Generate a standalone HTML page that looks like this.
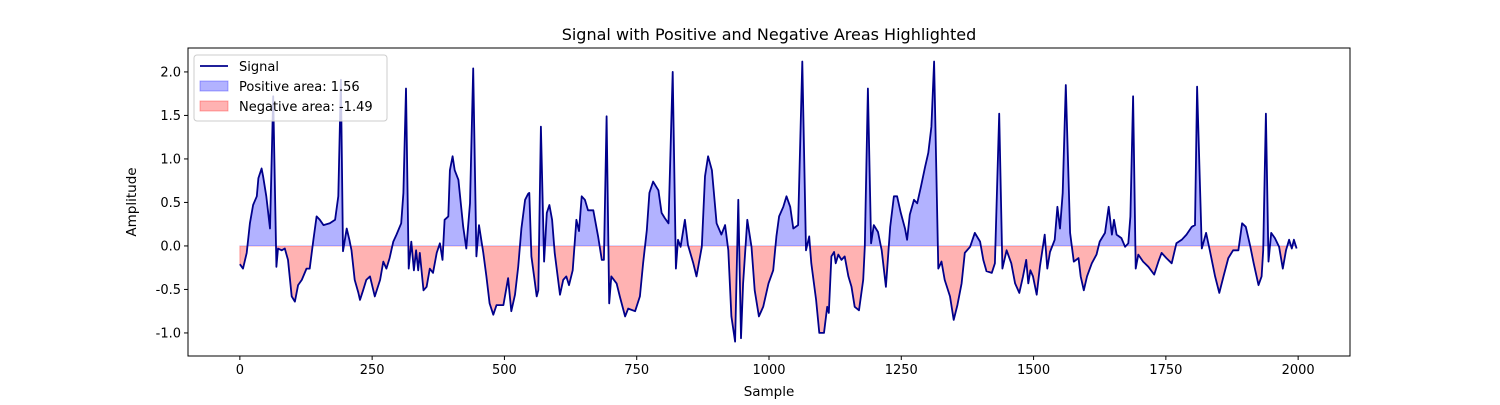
<!DOCTYPE html>
<html><head><meta charset="utf-8"><style>
body{margin:0;background:#fff;font-family:"Liberation Sans","DejaVu Sans",sans-serif;}
svg text{font-family:"DejaVu Sans","Liberation Sans",sans-serif;}
</style></head><body>
<svg id="chart" width="1500" height="400" xmlns="http://www.w3.org/2000/svg">
<rect width="1500" height="400" fill="#fff"/>
<text x="769" y="40" font-size="16" text-anchor="middle">Signal with Positive and Negative Areas Highlighted</text>
<g id="plot"></g>
<text x="769" y="396" font-size="13.5" text-anchor="middle">Sample</text>
<text transform="translate(136,202) rotate(-90)" font-size="13.5" text-anchor="middle">Amplitude</text>
</svg>
<script>
const samples=[0,6,13,19,25,32,35,41,44,50,57,63,69,72,79,85,91,98,104,110,117,126,132,139,145,151,158,170,180,186,191,195,202,207,211,217,224,227,233,239,246,255,265,271,277,283,290,296,305,309,314,319,324,329,333,337,340,347,353,359,365,372,378,383,387,394,397,402,406,413,422,428,435,441,447,452,460,466,472,479,485,498,507,513,520,526,532,539,545,
547,551,556,561,564,569,575,580,585,590,595,605,611,617,622,629,636,641,646,652,658,668,677,684,688,693,698,702,712,718,728,734,747,756,762,769,774,781,791,797,803,810,818,824,828,833,841,847,857,863,873,879,885,892,901,910,917,923,929,936,942,947,951,959,967,973,981,989,999,1008,1014,1019,1027,1033,1040,1046,1055,1063,1070,1076,1080,1089,1095,
1104,1110,1113,1118,1123,1126,1131,1137,1143,1150,1156,1162,1170,1178,1181,1187,1193,1198,1206,1213,1221,1229,1236,1242,1249,1257,1261,1266,1274,1280,1287,1295,1301,1307,1312,1320,1326,1332,1342,1349,1356,1364,1370,1380,1389,1399,1405,1411,1421,1427,1435,1441,1449,1458,1465,1473,1480,1486,1490,1494,1499,1506,1512,1521,1526,1531,1540,1545,1550,1555,1561,
1569,1576,1585,1589,1595,1601,1610,1619,1625,1635,1642,1648,1652,1657,1666,1673,1679,1683,1688,1693,1698,1707,1717,1728,1736,1742,1751,1761,1770,1780,1789,1799,1805,1809,1818,1826,1833,1843,1851,1859,1868,1877,1887,1894,1901,1909,1916,1925,1931,1934,1939,1944,1949,1956,1964,1971,1977,1983,1988,1992,1997];
const values=[-0.21,-0.26,-0.08,0.26,0.47,0.57,0.78,0.89,0.80,0.57,0.20,1.72,-0.24,-0.03,-0.05,-0.03,-0.16,-0.58,-0.64,-0.45,-0.39,-0.26,-0.26,0.07,0.34,0.30,0.24,0.26,0.30,0.57,1.91,-0.06,0.20,0.07,-0.05,-0.39,-0.54,-0.62,-0.51,-0.39,-0.35,-0.58,-0.39,-0.18,-0.26,-0.14,0.05,0.13,0.26,0.61,1.81,-0.26,0.05,-0.28,-0.05,-0.28,-0.08,-0.51,-0.47,-0.26,-0.31,-0.08,0.03,-0.16,0.30,0.34,0.87,1.03,0.87,0.76,0.22,-0.03,0.49,2.04,-0.12,0.24,-0.08,-0.35,-0.66,-0.79,-0.68,-0.68,-0.37,-0.75,-0.56,-0.24,0.20,0.53,0.60,
0.61,-0.12,-0.35,-0.58,-0.51,1.37,-0.18,0.38,0.47,0.30,-0.08,-0.56,-0.39,-0.35,-0.45,-0.28,0.30,0.17,0.57,0.53,0.41,0.41,0.11,-0.16,-0.16,1.49,-0.66,-0.35,-0.43,-0.58,-0.81,-0.72,-0.75,-0.58,-0.20,0.18,0.61,0.74,0.64,0.38,0.32,0.26,2.00,-0.26,0.07,-0.01,0.30,0.01,-0.20,-0.35,-0.01,0.80,1.03,0.87,0.26,0.13,0.24,-0.05,-0.81,-1.10,0.53,-1.06,-0.43,0.30,-0.01,-0.51,-0.81,-0.70,-0.43,-0.28,0.11,0.34,0.45,0.57,0.45,0.20,0.24,2.12,-0.05,0.11,-0.20,-0.62,-1.00,
-1.00,-0.70,-0.77,-0.12,-0.07,-0.20,-0.10,-0.16,-0.12,-0.35,-0.47,-0.70,-0.74,-0.39,-0.01,1.81,0.03,0.24,0.16,-0.05,-0.47,0.22,0.57,0.57,0.38,0.20,0.07,0.36,0.53,0.49,0.68,0.91,1.07,1.37,2.12,-0.26,-0.18,-0.39,-0.58,-0.85,-0.68,-0.43,-0.08,-0.01,0.15,0.05,-0.16,-0.29,-0.31,-0.20,1.52,-0.26,-0.05,-0.20,-0.43,-0.54,-0.35,-0.16,-0.43,-0.28,-0.35,-0.56,-0.24,0.13,-0.26,-0.07,0.07,0.45,0.20,0.61,1.85,
0.15,-0.18,-0.14,-0.35,-0.51,-0.35,-0.20,-0.10,0.05,0.15,0.45,0.13,0.30,0.13,0.09,-0.01,0.03,0.34,1.72,-0.26,-0.10,-0.18,-0.24,-0.33,-0.18,-0.08,-0.14,-0.20,0.03,0.07,0.13,0.22,0.24,1.83,-0.03,0.15,-0.05,-0.35,-0.54,-0.35,-0.14,-0.05,-0.05,0.26,0.22,0.01,-0.20,-0.45,-0.35,-0.05,1.52,-0.18,0.15,0.09,-0.01,-0.26,-0.05,0.07,-0.03,0.07,-0.03];
const xTicks=[0,250,500,750,1000,1250,1500,1750,2000];
const yTicks=[-1.0,-0.5,0.0,0.5,1.0,1.5,2.0];
const legendLabels=["Signal","Positive area: 1.56","Negative area: -1.49"];

const NS="http://www.w3.org/2000/svg";
const L=188,R=1350,T=48,B=356;
const xMin=-98,xMax=2098,yMin=-1.265,yMax=2.275;
function sx(v){return L+(v-xMin)/(xMax-xMin)*(R-L);}
function sy(v){return B-(v-yMin)/(yMax-yMin)*(B-T);}
const g=document.getElementById('plot');
function el(t,a,p){const e=document.createElementNS(NS,t);for(const k in a)e.setAttribute(k,a[k]);(p||g).appendChild(e);return e;}

const defs=el('defs',{});
const cp=el('clipPath',{id:'cpos'},defs);el('rect',{x:0,y:0,width:1500,height:sy(0)},cp);
const cn=el('clipPath',{id:'cneg'},defs);el('rect',{x:0,y:sy(0),width:1500,height:400},cn);

let pts=samples.map((s,i)=>sx(s).toFixed(1)+','+sy(values[i]).toFixed(1));
const fillD='M'+sx(samples[0])+','+sy(0)+' L'+pts.join(' L')+' L'+sx(samples[samples.length-1])+','+sy(0)+'Z';
const pos=el('path',{d:fillD,fill:'rgba(0,0,255,0.3)',stroke:'rgba(0,0,255,0.3)','stroke-width':1,'clip-path':'url(#cpos)'});


const neg=el('path',{d:fillD,fill:'rgba(255,0,0,0.3)',stroke:'rgba(255,0,0,0.3)','stroke-width':1,'clip-path':'url(#cneg)'});


const line=el('polyline',{points:pts.join(' '),fill:'none',stroke:'#00008b','stroke-width':1.8,'stroke-linejoin':'round'});



const frame=el('rect',{x:L,y:T,width:R-L,height:B-T,fill:'none',stroke:'#000','stroke-width':1});



xTicks.forEach(v=>{const x=sx(v);
 el('line',{x1:x,x2:x,y1:B,y2:B+4,stroke:'#000'});
 const t=el('text',{x:x,y:B+18,'font-size':13,'text-anchor':'middle'});t.textContent=v;
 
 
});
yTicks.forEach(v=>{const y=sy(v);
 el('line',{x1:L-4,x2:L,y1:y,y2:y,stroke:'#000'});
 const t=el('text',{x:L-7,y:y+4.5,'font-size':13,'text-anchor':'end'});t.textContent=v.toFixed(1);
 
 
});

const lg=el('g',{});


el('rect',{x:194,y:55,width:193,height:66,rx:3,fill:'rgba(255,255,255,0.8)',stroke:'#ccc'},lg);
el('line',{x1:200,x2:228,y1:66,y2:66,stroke:'#00008b','stroke-width':1.8},lg);
el('rect',{x:200,y:81,width:28,height:10,fill:'rgba(0,0,255,0.3)',stroke:'rgba(0,0,255,0.3)'},lg);
el('rect',{x:200,y:101,width:28,height:10,fill:'rgba(255,0,0,0.3)',stroke:'rgba(255,0,0,0.3)'},lg);
legendLabels.forEach((s,i)=>{const t=el('text',{x:239,y:71+i*20,'font-size':13},lg);t.textContent=s;
 
 
});
</script>
</body></html>
